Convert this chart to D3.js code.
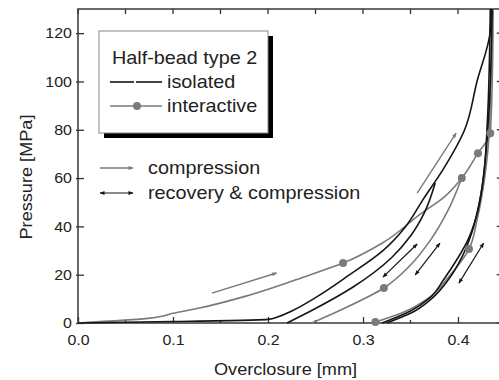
<!DOCTYPE html>
<html><head><meta charset="utf-8">
<script src="https://cdn.jsdelivr.net/npm/d3@7"></script>
<style>
body{margin:0;background:#fff}
text{font-family:"Liberation Sans",Arial,sans-serif;fill:#222}
</style></head>
<body><svg id="chart" width="499" height="380"></svg>
<script>
// ---- data (overclosure mm, pressure MPa) ----
const xTicks = [0, 0.1, 0.2, 0.3, 0.4];
const xTickLabels = ["0.0", "0.1", "0.2", "0.3", "0.4"];
const yTicks = [0, 20, 40, 60, 80, 100, 120];

const isolatedLoad1 = [[0,0],[0.1,0.6],[0.2,1.5],[0.21,2.5],[0.225,5],[0.25,10.5],[0.286,20],[0.321,30],[0.345,40],[0.363,51],[0.385,64],[0.407,80],[0.42,100],[0.434,121],[0.435,130]];
const isolatedCycle1 = [[0.22,0],[0.25,6],[0.29,15],[0.33,27],[0.35,36],[0.365,46],[0.376,58]];
const isolatedLoad2 = [[0.32,0],[0.35,5],[0.37,10.3],[0.385,18],[0.40,27],[0.41,34],[0.42,45],[0.426,58],[0.431,84],[0.434,130]];
const isolatedCycle2 = [[0.325,0],[0.35,4],[0.372,10],[0.39,18],[0.405,28],[0.415,38],[0.423,51],[0.432,84],[0.436,130]];

const interactiveLoad1 = [[0,0],[0.076,2],[0.1,4],[0.128,6.2],[0.181,11.6],[0.244,19.9],[0.279,24.8],[0.32,33],[0.36,45],[0.385,52],[0.404,60],[0.421,70.3],[0.434,78.6],[0.436,100],[0.437,130]];
const interactiveCycle1 = [[0.246,0],[0.28,6],[0.322,14.5],[0.35,24],[0.371,34.3],[0.39,47],[0.404,60]];
const interactiveLoad2 = [[0.31,0],[0.34,4],[0.371,10.9],[0.39,19],[0.4116,30.6],[0.42,42.6],[0.428,60],[0.433,80],[0.436,130]];
const interactiveMarkers = [[0.279,24.8],[0.404,60],[0.421,70.3],[0.434,78.6],[0.322,14.5],[0.313,0.4],[0.4116,30.6]];

// arrows: [x1,p1,x2,p2]
const compressionArrows = [[0.141,12.4,0.209,20.7],[0.357,53.8,0.398,78.6]];
const recoveryArrows = [[0.321,19,0.357,32.7],[0.355,19.9,0.381,33.1],[0.401,16.5,0.427,33.1]];

const legendTitle = "Half-bead type 2";
const seriesNames = ["isolated", "interactive"];
const arrowNames = ["compression", "recovery & compression"];

// ---- drawing ----
const SX = 1.1; // glyphs in the reference are slightly wider than Arial
const svg = d3.select("#chart");
const L = 78, T = 9, B = 323;
const x = d3.scaleLinear().domain([0, 0.445]).range([L, L + 0.445 * 950]);
const y = d3.scaleLinear().domain([0, 130]).range([B, T]);
const R = x(0.445);

const BLACK = "#151515", GREY = "#7a7a7a";

function txt(g, px, py, s, size, anchor, rot) {
  return g.append("text")
    .attr("transform", `translate(${px},${py})${rot ? ` rotate(${rot})` : ""} scale(${SX},1)`)
    .attr("font-size", size).attr("text-anchor", anchor || "start").text(s);
}

const defs = svg.append("defs");
function mk(id, color, orient) {
  defs.append("marker").attr("id", id).attr("viewBox", "0 0 10 10")
    .attr("refX", 9).attr("refY", 5).attr("markerWidth", 6).attr("markerHeight", 5)
    .attr("markerUnits", "userSpaceOnUse").attr("orient", orient)
    .append("path").attr("d", "M0,1 L10,5 L0,9 Z").attr("fill", color);
}
mk("hg", GREY, "auto");
mk("hb", BLACK, "auto");
mk("hbs", BLACK, "auto-start-reverse");

// frame
svg.append("rect").attr("x", L).attr("y", T).attr("width", R - L).attr("height", B - T)
  .attr("fill", "none").attr("stroke", "#444").attr("stroke-width", 1.6);

// axes
const minorX = d3.range(0, 0.4451, 0.05);
const gx = svg.append("g").attr("transform", `translate(0,${B})`)
  .call(d3.axisBottom(x).tickValues(xTicks).tickFormat((d, i) => xTickLabels[i]).tickSizeInner(-6).tickSizeOuter(0).tickPadding(12));
gx.select(".domain").remove();
gx.selectAll("line").attr("stroke", "#333").attr("stroke-width", 1.3);
gx.selectAll("text").attr("font-size", 14.5).attr("fill", "#222").attr("transform", `scale(${SX},1)`);
svg.append("g").selectAll("line").data(minorX.filter(v => !xTicks.some(t => Math.abs(t - v) < 1e-6))).join("line")
  .attr("x1", d => x(d)).attr("x2", d => x(d)).attr("y1", B).attr("y2", B - 3).attr("stroke", "#333").attr("stroke-width", 1.3);
svg.append("g").selectAll("line").data(minorX).join("line")
  .attr("x1", d => x(d)).attr("x2", d => x(d)).attr("y1", T).attr("y2", T + 5).attr("stroke", "#333").attr("stroke-width", 1.3);

const gy = svg.append("g").attr("transform", `translate(${L},0)`)
  .call(d3.axisLeft(y).tickValues(yTicks).tickSizeInner(0).tickSizeOuter(0).tickPadding(0));
gy.select(".domain").remove();
gy.selectAll(".tick line").attr("x1", -2).attr("x2", 6).attr("stroke", "#333").attr("stroke-width", 1.3);
gy.selectAll("text").attr("font-size", 14.5).attr("fill", "#222").attr("x", -5.5).attr("transform", `scale(${SX},1)`);
svg.append("g").selectAll("line").data(yTicks).join("line")
  .attr("x1", R).attr("x2", R - 4).attr("y1", d => y(d)).attr("y2", d => y(d)).attr("stroke", "#333").attr("stroke-width", 1.3);

// axis titles
txt(svg, 285.5, 375, "Overclosure [mm]", 16.5, "middle");
txt(svg, 32, 177, "Pressure [MPa]", 16.5, "middle", -90);

// curves
const line = d3.line().x(d => x(d[0])).y(d => y(d[1])).curve(d3.curveMonotoneY);
const plot = svg.append("g");
[interactiveLoad1, interactiveCycle1, interactiveLoad2].forEach(s =>
  plot.append("path").datum(s).attr("d", line).attr("fill", "none").attr("stroke", GREY).attr("stroke-width", 1.6));
[isolatedLoad1, isolatedCycle1, isolatedLoad2, isolatedCycle2].forEach(s =>
  plot.append("path").datum(s).attr("d", line).attr("fill", "none").attr("stroke", BLACK).attr("stroke-width", 1.6));
plot.selectAll("circle").data(interactiveMarkers).join("circle")
  .attr("cx", d => x(d[0])).attr("cy", d => y(d[1])).attr("r", 4).attr("fill", GREY);

// arrows
plot.selectAll(".ca").data(compressionArrows).join("line").attr("class", "ca")
  .attr("x1", d => x(d[0])).attr("y1", d => y(d[1])).attr("x2", d => x(d[2])).attr("y2", d => y(d[3]))
  .attr("stroke", GREY).attr("stroke-width", 1.4).attr("marker-end", "url(#hg)");
plot.selectAll(".ra").data(recoveryArrows).join("line").attr("class", "ra")
  .attr("x1", d => x(d[0])).attr("y1", d => y(d[1])).attr("x2", d => x(d[2])).attr("y2", d => y(d[3]))
  .attr("stroke", BLACK).attr("stroke-width", 1.2).attr("marker-end", "url(#hb)").attr("marker-start", "url(#hbs)");

// legend box
const lg = svg.append("g");
lg.append("rect").attr("x", 104).attr("y", 36).attr("width", 169).attr("height", 102).attr("fill", "#000");
lg.append("rect").attr("x", 99).attr("y", 31).attr("width", 169).attr("height", 102).attr("fill", "#fff")
  .attr("stroke", "#888").attr("stroke-width", 1);
txt(lg, 112, 64, legendTitle, 18);
lg.append("line").attr("x1", 110).attr("x2", 134).attr("y1", 82).attr("y2", 82).attr("stroke", BLACK).attr("stroke-width", 1.6);
lg.append("line").attr("x1", 136).attr("x2", 162).attr("y1", 82).attr("y2", 82).attr("stroke", BLACK).attr("stroke-width", 1.6);
txt(lg, 167, 88, seriesNames[0], 18);
lg.append("line").attr("x1", 110).attr("x2", 162).attr("y1", 106).attr("y2", 106).attr("stroke", GREY).attr("stroke-width", 1.6);
lg.append("circle").attr("cx", 137).attr("cy", 106).attr("r", 4).attr("fill", GREY);
txt(lg, 167, 112, seriesNames[1], 18);

// arrow legend
svg.append("line").attr("x1", 100).attr("x2", 133).attr("y1", 168).attr("y2", 168)
  .attr("stroke", GREY).attr("stroke-width", 1.4).attr("marker-end", "url(#hg)");
txt(svg, 148, 174, arrowNames[0], 18);
svg.append("line").attr("x1", 100).attr("x2", 133).attr("y1", 193).attr("y2", 193)
  .attr("stroke", BLACK).attr("stroke-width", 1.2).attr("marker-end", "url(#hb)").attr("marker-start", "url(#hbs)");
txt(svg, 148, 199, arrowNames[1], 18);
</script>
</body></html>
